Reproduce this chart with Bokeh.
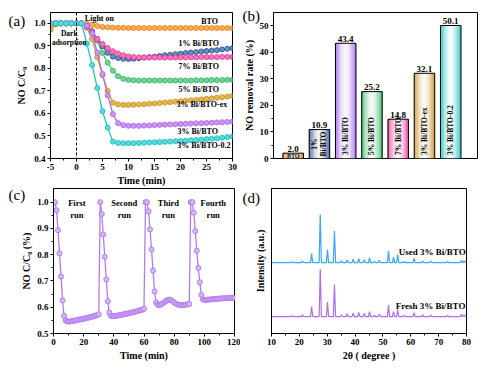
import math
from bokeh.plotting import figure
from bokeh.layouts import row, column
from bokeh.models import Span, FixedTicker, Range1d, NumeralTickFormatter, GridBox
from bokeh.core.properties import value
from bokeh.embed import file_html
from bokeh.resources import INLINE

FONT = "Liberation Serif"

# ---------------- data: panel (a) ----------------
time_a = list(range(-5, 31))
a_names = ["BTO", "3% Bi/BTO-ex", "5% Bi/BTO", "1% Bi/BTO", "7% Bi/BTO", "3% Bi/BTO", "3% Bi/BTO-0.2"]
a_colors = ["#F7891E", "#D29A1E", "#3CBF6A", "#2F5EA0", "#F0409E", "#B46CF5", "#1EC6C8"]
a_bto = [0.975, 0.995, 1.0, 1.0, 1.0, 1.0, 1.0,
         0.997, 0.993, 0.988, 0.984, 0.982, 0.981, 0.980, 0.980, 0.979, 0.979,
         0.979, 0.979, 0.979, 0.979, 0.979, 0.979, 0.979, 0.979, 0.979, 0.979,
         0.979, 0.979, 0.979, 0.979, 0.979, 0.979, 0.979, 0.979, 0.978]
a_ex = [0.972, 0.997, 1.0, 1.0, 1.0, 1.0, 1.0,
        0.980, 0.930, 0.850, 0.770, 0.700, 0.648, 0.640, 0.638, 0.638, 0.639,
        0.640, 0.641, 0.643, 0.644, 0.646, 0.648, 0.650, 0.652, 0.654, 0.656,
        0.658, 0.660, 0.662, 0.665, 0.667, 0.670, 0.672, 0.675, 0.678]
a_5 = [1.0, 1.0, 1.0, 1.0, 1.0, 1.0, 1.0,
       0.985, 0.960, 0.923, 0.868, 0.825, 0.790, 0.765, 0.754, 0.749, 0.747,
       0.746, 0.746, 0.746, 0.746, 0.746, 0.746, 0.746, 0.746, 0.746, 0.746,
       0.746, 0.747, 0.747, 0.747, 0.748, 0.748, 0.748, 0.749, 0.749]
a_1 = [1.0, 1.0, 1.0, 1.0, 1.0, 1.0, 1.0,
       0.990, 0.965, 0.930, 0.898, 0.869, 0.852, 0.846, 0.843, 0.842, 0.843,
       0.845, 0.848, 0.850, 0.852, 0.855, 0.858, 0.860, 0.863, 0.865, 0.868,
       0.870, 0.872, 0.875, 0.877, 0.879, 0.881, 0.884, 0.887, 0.890]
a_7 = [1.0, 1.0, 1.0, 1.0, 1.0, 1.0, 1.0,
       0.985, 0.960, 0.930, 0.908, 0.890, 0.876, 0.866, 0.858, 0.853, 0.850,
       0.849, 0.848, 0.848, 0.848, 0.848, 0.848, 0.848, 0.848, 0.849, 0.849,
       0.849, 0.849, 0.850, 0.850, 0.850, 0.850, 0.851, 0.851, 0.851]
a_3 = [1.0, 1.0, 1.0, 1.0, 1.0, 1.0, 1.0,
       0.990, 0.955, 0.870, 0.775, 0.680, 0.597, 0.557, 0.548, 0.545, 0.545,
       0.545, 0.546, 0.547, 0.548, 0.549, 0.550, 0.551, 0.552, 0.553, 0.554,
       0.555, 0.556, 0.557, 0.558, 0.559, 0.560, 0.561, 0.562, 0.564]
a_02 = [1.0, 1.0, 1.0, 1.0, 1.0, 1.0, 1.0,
        0.910, 0.815, 0.713, 0.610, 0.537, 0.475, 0.469, 0.468, 0.468, 0.468,
        0.469, 0.470, 0.471, 0.472, 0.473, 0.474, 0.475, 0.477, 0.478, 0.479,
        0.481, 0.482, 0.484, 0.486, 0.488, 0.490, 0.492, 0.495, 0.498]
a_series = [a_bto, a_ex, a_5, a_1, a_7, a_3, a_02]
a_xticks = [-5, 0, 5, 10, 15, 20, 25, 30]
a_yticks = [0.4, 0.5, 0.6, 0.7, 0.8, 0.9, 1.0]
# label placement (x, y) for series names
a_lab_x = [25.6, 24.1, 23.5, 23.5, 23.5, 23.3, 24.5]
a_lab_y = [1.010, 0.638, 0.706, 0.912, 0.809, 0.522, 0.459]

# ---------------- data: panel (b) ----------------
b_cats = ["BTO", "1% Bi/BTO", "3% Bi/BTO", "5% Bi/BTO", "7% Bi/BTO", "3% Bi/BTO-ex", "3% Bi/BTO-0.2"]
b_vals = [2.0, 10.9, 43.4, 25.2, 14.8, 32.1, 50.1]
b_colors = ["#F07A22", "#3D5F9C", "#A66CF2", "#3DBD6C", "#EE3F9C", "#C8962E", "#22C4C4"]
b_yticks = [0, 10, 20, 30, 40, 50]

# ---------------- data: panel (c) ----------------
time_c = list(range(1, 121))
c_vals = [
    1.0, 0.969, 0.893, 0.805, 0.717, 0.626, 0.567, 0.550, 0.546, 0.545,
    0.546, 0.547, 0.548, 0.549, 0.550, 0.552, 0.553, 0.554, 0.555, 0.556,
    0.558, 0.559, 0.560, 0.562, 0.563, 0.565, 0.566, 0.568, 0.570, 0.573,
    1.0, 0.955, 0.877, 0.792, 0.706, 0.623, 0.580, 0.568, 0.566, 0.566,
    0.567, 0.568, 0.569, 0.570, 0.571, 0.572, 0.574, 0.575, 0.576, 0.577,
    0.578, 0.580, 0.581, 0.583, 0.584, 0.586, 0.588, 0.589, 0.591, 0.594,
    1.0, 1.0, 0.965, 0.896, 0.820, 0.739, 0.660, 0.619, 0.610, 0.608,
    0.610, 0.613, 0.617, 0.621, 0.625, 0.628, 0.629, 0.627, 0.623, 0.618,
    0.614, 0.611, 0.609, 0.608, 0.608, 0.609, 0.609, 0.610, 0.611, 0.612,
    1.0, 1.0, 0.960, 0.890, 0.815, 0.750, 0.695, 0.647, 0.630, 0.628,
    0.628, 0.629, 0.629, 0.630, 0.630, 0.631, 0.631, 0.632, 0.632, 0.633,
    0.633, 0.634, 0.634, 0.634, 0.635, 0.635, 0.636, 0.636, 0.636, 0.635]
c_runs = ["First\nrun", "Second\nrun", "Third\nrun", "Fourth\nrun"]
c_run_x = [15.5, 46.9, 76.2, 105.9]
c_xticks = [0, 20, 40, 60, 80, 100, 120]
c_yticks = [0.5, 0.6, 0.7, 0.8, 0.9, 1.0]

# ---------------- data: panel (d) ----------------
d_peaks = [17.5, 21.1, 24.4, 27.5, 30.1, 32.6, 35.2, 37.2, 39.3, 41.3, 43.3, 45.2,
           47.0, 48.7, 52.0, 53.8, 55.3, 57.7, 61.2, 64.3, 67.3, 73.2, 78.2, 79.2]
d_used = [0.6, 1.1, 6.3, 33.1, 9.0, 21.8, 1.2, 1.8, 2.3, 2.7, 2.0, 3.4,
          0.8, 1.6, 7.9, 3.8, 5.6, 0.9, 2.9, 1.1, 1.0, 0.8, 1.6, 1.2]
d_fresh = [0.6, 1.1, 6.8, 32.7, 10.0, 22.0, 1.2, 2.0, 2.3, 2.8, 2.2, 3.4,
           0.8, 1.6, 7.9, 3.4, 4.5, 0.9, 2.7, 1.1, 1.0, 0.8, 1.6, 1.2]
d_used_base = 48.9
d_fresh_base = 11.7
d_xticks = [10, 20, 30, 40, 50, 60, 70, 80]

# panel tags
tags = ["(a)", "(b)", "(c)", "(d)"]


def blend(c, t):
    r, g, b = int(c[1:3], 16), int(c[3:5], 16), int(c[5:7], 16)
    return "#%02x%02x%02x" % (round(255 + (r - 255) * t), round(255 + (g - 255) * t),
                              round(255 + (b - 255) * t))


def style(p):
    p.outline_line_color = "black"
    p.outline_line_width = 1
    p.background_fill_color = "white"
    p.border_fill_color = "white"
    p.xgrid.visible = False
    p.ygrid.visible = False
    for ax in p.axis:
        ax.axis_line_color = "black"
        ax.axis_line_width = 1
        ax.major_tick_out = 3
        ax.major_tick_in = 0
        ax.minor_tick_out = 2
        ax.minor_tick_in = 0
        ax.major_tick_line_color = "black"
        ax.minor_tick_line_color = "black"
        ax.major_label_text_font = FONT
        ax.major_label_text_font_style = "bold"
        ax.major_label_text_font_size = "9px"
        ax.major_label_text_color = "black"
        ax.major_label_standoff = 2
        ax.axis_label_text_font = FONT
        ax.axis_label_text_font_style = "bold"
        ax.axis_label_text_font_size = "10px"
        ax.axis_label_text_color = "black"
        ax.axis_label_standoff = 2


def minor_between(ticks):
    return [(ticks[i] + ticks[i + 1]) / 2 for i in range(len(ticks) - 1)]


# ---------------- panel (a) ----------------
pa = figure(width=240, height=188, x_range=Range1d(-5, 30), y_range=Range1d(0.4, 1.048),
            min_border_left=50, min_border_right=8, min_border_top=12, min_border_bottom=29,
            output_backend="svg", toolbar_location=None)
style(pa)
pa.xaxis.ticker = FixedTicker(ticks=a_xticks, minor_ticks=minor_between(a_xticks))
pa.yaxis.ticker = FixedTicker(ticks=a_yticks, minor_ticks=minor_between(a_yticks))
pa.yaxis.formatter = NumeralTickFormatter(format="0.0")
pa.xaxis.major_label_overrides = {-5: "-5"}
pa.xaxis.axis_label = "Time (min)"
pa.yaxis.axis_label = "NO C/C\u2080"
pa.yaxis.axis_label_standoff = 4
pa.add_layout(Span(location=0, dimension="height", line_color="black", line_width=1,
                   line_dash="3 2"))
for ys, col in zip(a_series, a_colors):
    pa.line(time_a, ys, line_color=col, line_width=1.3)
    pa.scatter(time_a, ys, size=5, fill_color=blend(col, 0.7), line_color=col, line_width=1)
pa.text(a_lab_x, a_lab_y, text=a_names, text_font=value(FONT), text_font_style="bold",
        text_font_size="8px", text_align="center", text_baseline="middle", text_color="black")
pa.text([4.4], [1.022], text=["Light on"], text_font=value(FONT), text_font_style="bold",
        text_font_size="8px", text_align="center", text_baseline="middle")
pa.text([-1.4, -1.4], [0.956, 0.916], text=["Dark", "adsorption"], text_font=value(FONT),
        text_font_style="bold", text_font_size="7.5px", text_align="center",
        text_baseline="middle")

# ---------------- panel (b) ----------------
b_x = list(range(1, len(b_vals) + 1))
BW = 0.78
pb = figure(width=238, height=188, x_range=Range1d(0.25, 8.02), y_range=Range1d(0, 55),
            min_border_left=30, min_border_right=1, min_border_top=12, min_border_bottom=21,
            output_backend="svg", toolbar_location=None)
style(pb)
pb.xaxis.visible = False
pb.yaxis.ticker = FixedTicker(ticks=b_yticks, minor_ticks=minor_between(b_yticks))
pb.yaxis.axis_label = "NO removal rate (%)"
pb.yaxis.axis_label_standoff = 2
K = 16
sl, sr, st, sc = [], [], [], []
for cx, v, col in zip(b_x, b_vals, b_colors):
    for j in range(K):
        l = cx - BW / 2 + j * BW / K
        u = abs((j + 0.5) / K * 2 - 1)
        sl.append(l)
        sr.append(l + BW / K)
        st.append(v)
        sc.append(blend(col, 0.05 + 0.95 * u ** 1.7))
pb.quad(left=sl, right=sr, bottom=0, top=st, fill_color=sc, line_color=sc, line_width=0.4)
pb.vbar(x=b_x, top=b_vals, width=BW, bottom=0, fill_color=None, line_color="black",
        line_width=1)
pb.text(b_x, [v + 0.6 for v in b_vals], text=["%.1f" % v for v in b_vals],
        text_font=value(FONT), text_font_style="bold", text_font_size="9px",
        text_align="center", text_baseline="bottom")
pb.text([b_x[0]], [b_vals[0] / 2], text=[b_cats[0]], text_font=value(FONT),
        text_font_style="bold", text_font_size="6px", text_align="center",
        text_baseline="middle")
pb.text([b_x[1]], [b_vals[1] / 2], text=["1%\nBi/BTO"], angle=math.pi / 2,
        text_font=value(FONT), text_font_style="bold", text_font_size="7.5px",
        text_align="center", text_baseline="middle", text_line_height=1.0)
pb.text(b_x[2:], [1.3] * len(b_x[2:]), text=b_cats[2:], angle=math.pi / 2,
        text_font=value(FONT), text_font_style="bold", text_font_size="7.5px",
        text_align="left", text_baseline="middle")

# ---------------- panel (c) ----------------
pc = figure(width=240, height=175, x_range=Range1d(0, 120), y_range=Range1d(0.5, 1.052),
            min_border_left=53, min_border_right=6, min_border_top=0, min_border_bottom=30,
            output_backend="svg", toolbar_location=None)
style(pc)
pc.xaxis.ticker = FixedTicker(ticks=c_xticks, minor_ticks=minor_between(c_xticks))
pc.yaxis.ticker = FixedTicker(ticks=c_yticks, minor_ticks=minor_between(c_yticks))
pc.yaxis.formatter = NumeralTickFormatter(format="0.0")
pc.xaxis.axis_label = "Time (min)"
pc.yaxis.axis_label = "NO C/C\u2080 (%)"
pc.line(time_c, c_vals, line_color="#B37BF2", line_width=1.3)
pc.scatter(time_c, c_vals, size=5, fill_color="#D9B8FA", line_color="#B37BF2", line_width=1)
pc.text(c_run_x, [0.975] * 4, text=c_runs, text_font=value(FONT), text_font_style="bold",
        text_font_size="8.5px", text_align="center", text_baseline="middle",
        text_line_height=1.2)

# ---------------- panel (d) ----------------
W = 0.4


def xrd_line(base, heights):
    xs, ys = [d_xticks[0]], [base]
    for pos, h in zip(d_peaks, heights):
        xs += [pos - W, pos, pos + W]
        ys += [base, base + h, base]
    xs.append(d_xticks[-1])
    ys.append(base)
    return xs, ys


pd_ = figure(width=238, height=175, x_range=Range1d(10, 80), y_range=Range1d(0, 100),
             min_border_left=31, min_border_right=12, min_border_top=0, min_border_bottom=29,
             output_backend="svg", toolbar_location=None)
style(pd_)
pd_.xaxis.ticker = FixedTicker(ticks=d_xticks, minor_ticks=minor_between(d_xticks))
pd_.yaxis.ticker = FixedTicker(ticks=[])
pd_.yaxis.major_label_text_font_size = "0px"
pd_.yaxis.axis_label = "Intensity (a.u.)"
pd_.yaxis.axis_label_standoff = 6
pd_.xaxis.axis_label = "2\u03b8 ( degree )"
ux, uy = xrd_line(d_used_base, d_used)
fx, fy = xrd_line(d_fresh_base, d_fresh)
pd_.line(ux, uy, line_color="#3AA8F2", line_width=1.2)
pd_.line(fx, fy, line_color="#B06CF2", line_width=1.2)
pd_.text([67.7, 67.1], [56.3, 18.9], text=["Used 3% Bi/BTO", "Fresh 3% Bi/BTO"],
         text_font=value(FONT), text_font_style="bold", text_font_size="9px",
         text_align="center", text_baseline="middle")

# ---------------- transparent overlay for the panel tags ----------------
ov = figure(width=478, height=363, x_range=Range1d(0, 478), y_range=Range1d(363, 0),
            x_axis_type=None, y_axis_type=None, min_border=0,
            min_border_left=0, min_border_right=0, min_border_top=0, min_border_bottom=0,
            output_backend="svg", toolbar_location=None)
ov.outline_line_color = None
ov.background_fill_color = None
ov.border_fill_color = None
ov.xgrid.visible = False
ov.ygrid.visible = False
ov.text([8, 242, 8, 242], [12, 7, 186, 189], text=tags, text_font=value(FONT),
        text_font_size="15px", text_align="left", text_baseline="top", text_color="black")

panels = column(row(pa, pb, spacing=0), row(pc, pd_, spacing=0), spacing=0)
layout = GridBox(children=[(panels, 0, 0), (ov, 0, 0)], spacing=0)
open("out.html", "w").write(file_html(layout, INLINE))
